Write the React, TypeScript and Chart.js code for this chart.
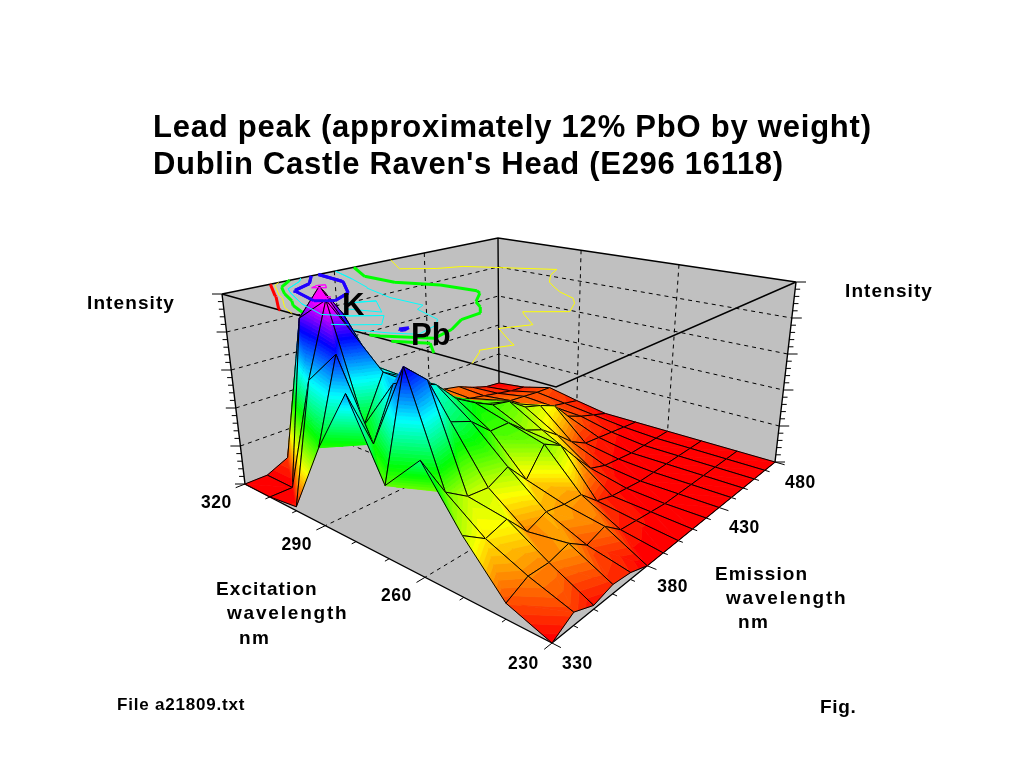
import React, { useEffect, useRef } from "react";
import { Chart, registerables } from "chart.js";

Chart.register(...registerables);

// ---------- data (intensity, fraction of axis height) ----------
const excitationNm = [320, 310, 300, 290, 280, 270, 260, 250, 240, 230];
const emissionNm = [330, 340, 350, 360, 370, 380, 390, 400, 410, 420, 430, 440, 450, 460, 470, 480];
const ex320 = [0, 0, 0.05, 0.45, 0.85, 0.62, 0.4, 0.28, 0.2, 0.15, 0.12, 0.1, 0.08, 0.04, 0.01, 0];
const ex310 = [0, 0, 0.855, 1.0, 0.82, 0.42, 0.3, 0.2, 0.16, 0.13, 0.11, 0.09, 0.07, 0.05, 0.03, 0.02];
const ex300 = [0.02, 0.61, 0.99, 0.8, 0.58, 0.42, 0.33, 0.26, 0.22, 0.2, 0.16, 0.13, 0.09, 0.08, 0.07, 0.065];
const ex290 = [0.375, 0.79, 0.4, 0.63, 0.57, 0.47, 0.4, 0.33, 0.27, 0.23, 0.2, 0.14, 0.09, 0.07, 0.05, 0.03];
const ex280 = [0.69, 0.41, 0.66, 0.62, 0.58, 0.47, 0.41, 0.36, 0.34, 0.27, 0.24, 0.2, 0.1, 0.06, 0.03, 0];
const ex270 = [0.33, 0.83, 0.73, 0.49, 0.45, 0.36, 0.36, 0.28, 0.24, 0.17, 0.09, 0.04, 0.03, 0.02, 0.01, 0];
const ex260 = [0.51, 0.32, 0.25, 0.24, 0.29, 0.18, 0.31, 0.26, 0.15, 0.05, 0.02, 0.01, 0, 0, 0, 0];
const ex250 = [0.26, 0.19, 0.22, 0.11, 0.147, 0.13, 0.126, 0.045, 0.02, 0.01, 0, 0, 0, 0, 0, 0];
const ex240 = [0.065, 0.113, 0.11, 0.135, 0.07, 0.1, 0.03, 0.02, 0.01, 0, 0, 0, 0, 0, 0, 0];
const ex230 = [0, 0.054, 0.016, 0.04, 0.03, 0, 0, 0, 0, 0, 0, 0, 0, 0, 0, 0];
const intensity = [ex320, ex310, ex300, ex290, ex280, ex270, ex260, ex250, ex240, ex230];

const excitationTicks = [320, 290, 260, 230];
const emissionTicks = [330, 380, 430, 480];
const contourLevels = [0.06, 0.2, 0.4, 0.6, 0.8, 0.95];
const contourColors = ["#ff0000", "#ffff00", "#00ff00", "#00ffff", "#2000ff", "#ff00ff"];
const contourWidths = [3, 1, 3, 1, 3, 1];

// ---------- box layout ----------
const floorQuad = [[245, 484], [552, 643], [775, 462], [499, 383]];
const ceilQuad = [[222, 294], [556, 387], [796, 282], [498, 238]];
const FONT = '"Liberation Sans", Arial, sans-serif';

function homography(q: number[][]) {
  const [[x0, y0], [x1, y1], [x2, y2], [x3, y3]] = q;
  const dx1 = x1 - x2, dx2 = x3 - x2, sx = x0 - x1 + x2 - x3;
  const dy1 = y1 - y2, dy2 = y3 - y2, sy = y0 - y1 + y2 - y3;
  const den = dx1 * dy2 - dx2 * dy1;
  const g = (sx * dy2 - dx2 * sy) / den;
  const h = (dx1 * sy - sx * dy1) / den;
  const a = x1 - x0 + g * x1, b = x3 - x0 + h * x3;
  const d = y1 - y0 + g * y1, e = y3 - y0 + h * y3;
  return (u: number, v: number) => {
    const w = g * u + h * v + 1;
    return [(a * u + b * v + x0) / w, (d * u + e * v + y0) / w];
  };
}
const floorAt = homography(floorQuad);
const ceilAt = homography(ceilQuad);
const uOf = (nm: number) => (320 - nm) / 90;
const vOf = (nm: number) => (nm - 330) / 150;
function project(u: number, v: number, z: number) {
  const f = floorAt(u, v), t = ceilAt(u, v);
  return { x: f[0] + (t[0] - f[0]) * z, y: f[1] + (t[1] - f[1]) * z };
}
const GAP = { x: null as any, y: null as any };

// ---------- surface cells, far to near ----------
type Pt = { x: number; y: number };
const N = excitationNm.length, M = emissionNm.length;
function surfacePoint(i: number, j: number) {
  return project(i / (N - 1), j / (M - 1), intensity[i][j]);
}

// ---------- contours (marching squares on the ceiling) ----------
function contourSegments(level: number) {
  const segs: { a: Pt; b: Pt; i: number; j: number }[] = [];
  for (let i = 0; i < N - 1; i++) {
    for (let j = 0; j < M - 1; j++) {
      const c = [[i, j], [i + 1, j], [i + 1, j + 1], [i, j + 1]];
      const hits: Pt[] = [];
      for (let k = 0; k < 4; k++) {
        const [a, b] = [c[k], c[(k + 1) % 4]];
        const za = intensity[a[0]][a[1]], zb = intensity[b[0]][b[1]];
        if ((za < level) !== (zb < level)) {
          const t = (level - za) / (zb - za);
          const ii = a[0] + (b[0] - a[0]) * t, jj = a[1] + (b[1] - a[1]) * t;
          hits.push(project(ii / (N - 1), jj / (M - 1), 1));
        }
      }
      for (let k = 0; k + 1 < hits.length; k += 2) segs.push({ a: hits[k], b: hits[k + 1], i, j });
    }
  }
  return segs;
}

function bandClip(poly: number[][], lo: number, hi: number) {
  const clip = (p: number[][], keep: (z: number) => boolean, lim: number) => {
    const out: number[][] = [];
    for (let k = 0; k < p.length; k++) {
      const a = p[k], b = p[(k + 1) % p.length];
      const ka = keep(a[2]), kb = keep(b[2]);
      if (ka) out.push(a);
      if (ka !== kb) {
        const t = (lim - a[2]) / (b[2] - a[2]);
        out.push([a[0] + (b[0] - a[0]) * t, a[1] + (b[1] - a[1]) * t, lim]);
      }
    }
    return out;
  };
  let r = clip(poly, (z) => z >= lo, lo);
  if (r.length) r = clip(r, (z) => z <= hi, hi);
  return r;
}

const BANDS = 64;
function hueOf(z: number) {
  return z <= 0.8 ? 300 * z : 240 + (Math.min(z, 0.95) - 0.8) * 400;
}
const surfacePlugin = {
  id: "surfaceFill",
  beforeDatasetsDraw(chart: any) {
    const { ctx, scales } = chart;
    const px = (p: number[]) => [scales.x.getPixelForValue(p[0]), scales.y.getPixelForValue(p[1])];
    ctx.save();
    ctx.fillStyle = "#c0c0c0";
    ctx.beginPath();
    [ceilQuad[0], ceilQuad[3], ceilQuad[2], floorQuad[2], floorQuad[1], floorQuad[0]].forEach((p, k) => {
      const q = px(p);
      k ? ctx.lineTo(q[0], q[1]) : ctx.moveTo(q[0], q[1]);
    });
    ctx.closePath();
    ctx.fill();
    ctx.restore();
  },
  beforeDatasetDraw(chart: any, args: any) {
    const ds = chart.data.datasets[args.index];
    if (!ds.cellZ) return;
    const { ctx, scales } = chart;
    const [a, b, c, d] = ds.data.slice(0, 4).map((p: Pt, k: number) => [
      scales.x.getPixelForValue(p.x), scales.y.getPixelForValue(p.y), ds.cellZ[k],
    ]);
    // split the cell along the diagonal with the smaller height difference
    const tris = Math.abs(a[2] - c[2]) <= Math.abs(b[2] - d[2]) ? [[a, c, d], [a, b, c]] : [[a, b, d], [b, c, d]];
    ctx.save();
    ctx.lineWidth = 0.7;
    ctx.lineJoin = "round";
    for (const tri of tris) {
      const zs = tri.map((p: number[]) => p[2]);
      const b0 = Math.floor(Math.min(...zs) * BANDS);
      const b1 = Math.min(BANDS, Math.floor(Math.max(...zs) * BANDS));
      for (let n = b0; n <= b1; n++) {
        const poly = bandClip(tri, n / BANDS, (n + 1) / BANDS);
        if (poly.length < 3) continue;
        const col = `hsl(${hueOf(n / BANDS)},100%,50%)`;
        ctx.fillStyle = col;
        ctx.strokeStyle = col;
        ctx.beginPath();
        poly.forEach((p, m) => (m ? ctx.lineTo(p[0], p[1]) : ctx.moveTo(p[0], p[1])));
        ctx.closePath();
        ctx.fill();
        ctx.stroke();
      }
    }
    ctx.restore();
  },
  afterDatasetsDraw(chart: any) {
    const { ctx } = chart;
    ctx.save();
    ctx.fillStyle = "#000";
    ctx.textBaseline = "alphabetic";
    const text = (s: string, x: number, y: number, font: string, spacing = 0) => {
      ctx.font = font;
      (ctx as any).letterSpacing = `${spacing}px`;
      ctx.fillText(s, x, y);
    };
    const title = `bold 31px ${FONT}`;
    text("Lead peak (approximately 12% PbO by weight)", 153, 137, title, 0.77);
    text("Dublin Castle Raven's Head (E296 16118)", 153, 174, title, 0.7);
    const lab = `bold 19px ${FONT}`;
    text("Intensity", 87, 309, lab, 1.1);
    text("Intensity", 845, 297, lab, 1.1);
    text("Excitation", 216, 595, lab, 1.1);
    text("wavelength", 227, 619, lab, 1.8);
    text("nm", 239, 644, lab, 1.5);
    text("Emission", 715, 580, lab, 1.1);
    text("wavelength", 726, 604, lab, 1.8);
    text("nm", 738, 628, lab, 1.5);
    const tickFont = `bold 17.5px ${FONT}`;
    excitationTicks.forEach((nm) => {
      const p = project(uOf(nm), 0, 0);
      text(String(nm), p.x - 44, p.y + (nm === 230 ? 26 : 24), tickFont, 0.5);
    });
    emissionTicks.forEach((nm) => {
      const p = project(1, vOf(nm), 0);
      text(String(nm), p.x + 10, p.y + 26, tickFont, 0.5);
    });
    text("File a21809.txt", 117, 710, `bold 17px ${FONT}`, 0.8);
    text("Fig.", 820, 713, `bold 19px ${FONT}`, 0.7);
    const big = `bold 31px ${FONT}`;
    text("K", 342, 315, big);
    text("Pb", 411, 345, big);
    ctx.restore();
  },
};

function line(label: string, data: any[], order: number, color = "#000", width = 1, dash: number[] = []) {
  return {
    label, data, order, showLine: true, spanGaps: false, borderColor: color, borderWidth: width,
    borderDash: dash, pointRadius: 0, pointHoverRadius: 0, tension: 0, fill: false,
  } as any;
}

function buildDatasets() {
  const sets: any[] = [];
  let order = 100000;
  // wall and floor grid lines
  const grid: any[] = [];
  const z5 = [0.2, 0.4, 0.6, 0.8];
  z5.forEach((z) => {
    grid.push(project(0, 0, z), project(0, 1, z), project(1, 1, z), GAP);
  });
  [380, 430].forEach((nm) => {
    grid.push(project(0, vOf(nm), 1), project(0, vOf(nm), 0), project(1, vOf(nm), 0), GAP);
  });
  [290, 260].forEach((nm) => {
    grid.push(project(uOf(nm), 1, 1), project(uOf(nm), 1, 0), project(uOf(nm), 0, 0), GAP);
  });
  sets.push(line("grid", grid, order--, "#000", 1, [4, 4]));

  // solid box lines
  const box: any[] = [
    project(0, 0, 1), project(0, 1, 1), project(1, 1, 1), GAP,
    project(0, 0, 1), project(0, 0, 0), project(1, 0, 0), project(1, 1, 0), project(1, 1, 1), GAP,
    project(0, 1, 1), project(0, 1, 0), GAP,
    project(0, 0, 1), project(1, 0, 1), project(1, 1, 1), GAP,
  ];
  sets.push(line("box", box, order--, "#000", 1.4));

  // ticks
  const ticks: any[] = [];
  excitationNm.forEach((nm) => {
    const major = excitationTicks.includes(nm);
    const a = project(uOf(nm), 0, 0), b = project(uOf(nm), 0.04, 0);
    const d = Math.hypot(a.x - b.x, a.y - b.y), len = major ? 10 : 5;
    ticks.push(a, { x: a.x + ((a.x - b.x) / d) * len, y: a.y + ((a.y - b.y) / d) * len }, GAP);
  });
  emissionNm.forEach((nm) => {
    const major = emissionTicks.includes(nm);
    const a = project(1, vOf(nm), 0), b = project(0.96, vOf(nm), 0);
    const d = Math.hypot(a.x - b.x, a.y - b.y), len = major ? 10 : 5;
    ticks.push(a, { x: a.x + ((a.x - b.x) / d) * len, y: a.y + ((a.y - b.y) / d) * len }, GAP);
  });
  for (let k = 0; k <= 25; k++) {
    const len = k % 5 === 0 ? 10 : 5;
    const l = project(0, 0, k / 25), r = project(1, 1, k / 25);
    ticks.push(l, { x: l.x - len, y: l.y }, GAP, r, { x: r.x + len, y: r.y }, GAP);
  }
  sets.push(line("ticks", ticks, order--, "#000", 1));

  // ceiling contours below the surface
  const allSegs = contourLevels.map(contourSegments).map((segs, n) =>
    // the lowest level is only drawn at the short-wavelength scatter edge
    n === 0 ? segs.filter((s) => s.j <= 3 && s.i <= 2) : segs
  );
  const onPeak = (s: any) => s.a.x < 356 && s.a.y < 326;
  allSegs.forEach((segs, n) => {
    const data: any[] = [];
    segs.forEach((s) => data.push(s.a, s.b, GAP));
    sets.push(line("contour " + contourLevels[n], data, order--, contourColors[n], contourWidths[n]));
  });

  // surface cells
  for (let i = 0; i < N - 1; i++) {
    for (let j = M - 2; j >= 0; j--) {
      const a = surfacePoint(i, j), b = surfacePoint(i + 1, j), c = surfacePoint(i + 1, j + 1), d = surfacePoint(i, j + 1);
      const ds = line(`cell ${excitationNm[i]}/${emissionNm[j]}`, [a, b, c, d, a], order--, "#000", 1);
      ds.cellZ = [intensity[i][j], intensity[i + 1][j], intensity[i + 1][j + 1], intensity[i][j + 1]];
      sets.push(ds);
    }
  }

  // contours that lie over the top of the peak
  allSegs.forEach((segs, n) => {
    if (contourLevels[n] < 0.6) return;
    const data: any[] = [];
    segs.filter(onPeak).forEach((s) => data.push(s.a, s.b, GAP));
    sets.push(line("peak contour " + contourLevels[n], data, order--, contourColors[n], contourWidths[n]));
  });
  return sets;
}

export default function App() {
  const ref = useRef<HTMLCanvasElement>(null);
  useEffect(() => {
    document.body.style.margin = "0";
    document.body.style.background = "#fff";
    const chart = new Chart(ref.current!, {
      type: "scatter",
      data: { datasets: buildDatasets() },
      options: {
        responsive: false,
        animation: false,
        devicePixelRatio: 1,
        events: [],
        layout: { padding: 0 },
        plugins: { legend: { display: false }, tooltip: { enabled: false }, title: { display: false } },
        scales: {
          x: { type: "linear", min: 0, max: 1034, display: false },
          y: { type: "linear", min: 0, max: 768, reverse: true, display: false },
        },
      },
      plugins: [surfacePlugin],
    } as any);
    return () => chart.destroy();
  }, []);
  return <canvas ref={ref} width={1034} height={768} style={{ display: "block", width: 1034, height: 768 }} />;
}
